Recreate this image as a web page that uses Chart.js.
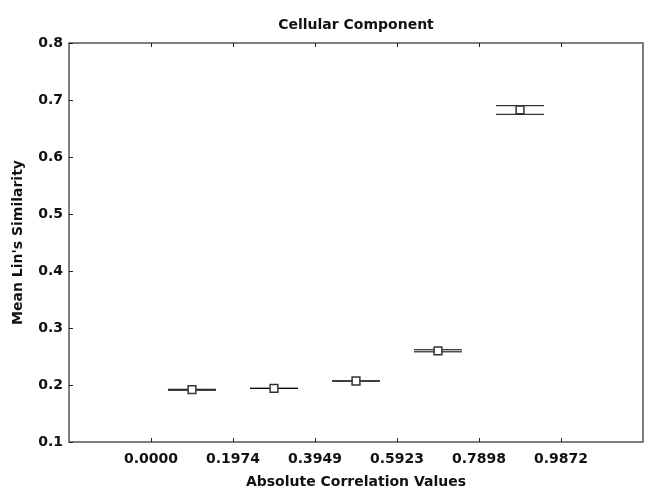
<!DOCTYPE html>
<html>
<head>
<meta charset="utf-8">
<script src="https://cdn.jsdelivr.net/npm/chart.js@4/dist/chart.umd.min.js"></script>
<style>
  body { margin: 0; background: #fff; }
  #wrap { width: 650px; height: 500px; }
</style>
</head>
<body>
<div id="wrap"><canvas id="cellChart"></canvas></div>
<script>
  // values
  const xTickValues = [0, 0.1974, 0.3949, 0.5923, 0.7898, 0.9872];
  const xTickLabels = ['0.0000', '0.1974', '0.3949', '0.5923', '0.7898', '0.9872'];
  const binCenters = [0.0987, 0.2962, 0.4936, 0.6910, 0.8885];
  const meanSim = [0.1920, 0.1942, 0.2070, 0.2600, 0.6825];
  const lowerSim = [0.1908, 0.1941, 0.2069, 0.2582, 0.6749];
  const upperSim = [0.1925, 0.1943, 0.2071, 0.2618, 0.6900];

  const font = { family: 'DejaVu Sans', size: 14, weight: 'bold' };

  // frame, inward tick marks and the error caps
  const framePlugin = {
    id: 'frame',
    beforeDatasetsDraw(chart) {
      const ctx = chart.ctx;
      const a = chart.chartArea;
      const xs = chart.scales.x, ys = chart.scales.y;
      ctx.save();
      ctx.strokeStyle = '#555';
      ctx.lineWidth = 1.5;
      ctx.strokeRect(a.left, a.top, a.right - a.left, a.bottom - a.top);
      ctx.lineWidth = 1;
      ctx.strokeStyle = '#222';
      ctx.beginPath();
      xTickValues.forEach(v => {
        const px = Math.round(xs.getPixelForValue(v)) + 0.5;
        ctx.moveTo(px, a.bottom); ctx.lineTo(px, a.bottom - 4);
        ctx.moveTo(px, a.top); ctx.lineTo(px, a.top + 4);
      });
      ys.ticks.forEach(t => {
        const py = Math.round(ys.getPixelForValue(t.value)) + 0.5;
        ctx.moveTo(a.left, py); ctx.lineTo(a.left + 4, py);
      });
      ctx.stroke();

      ctx.strokeStyle = '#000';
      ctx.beginPath();
      binCenters.forEach((c, i) => {
        const px = xs.getPixelForValue(c);
        [lowerSim[i], upperSim[i]].forEach(v => {
          const py = ys.getPixelForValue(v);
          ctx.moveTo(px - 24, py); ctx.lineTo(px + 24, py);
        });
      });
      ctx.stroke();
      ctx.restore();
    }
  };

  new Chart(document.getElementById('cellChart'), {
    type: 'scatter',
    data: {
      datasets: [{
        data: binCenters.map((c, i) => ({ x: c, y: meanSim[i] })),
        pointStyle: 'rect',
        pointRadius: 5.5,
        pointHoverRadius: 5.5,
        backgroundColor: '#fff',
        borderColor: '#333',
        borderWidth: 1.5
      }]
    },
    options: {
      responsive: true,
      maintainAspectRatio: false,
      animation: false,
      events: [],
      layout: { padding: { right: 4.5 } },
      plugins: {
        legend: { display: false },
        tooltip: { enabled: false },
        title: {
          display: true,
          text: 'Cellular Component',
          fullSize: false,
          color: '#111',
          font: font,
          padding: { top: 16.6, bottom: 9.6 }
        }
      },
      scales: {
        x: {
          type: 'linear',
          min: -0.1974,
          max: 1.1846,
          afterBuildTicks: s => { s.ticks = xTickValues.map(v => ({ value: v })); },
          afterFit: s => { s.height = 58; },
          grid: { display: false, drawTicks: false },
          border: { display: false },
          ticks: {
            color: '#111',
            font: font,
            padding: 9,
            maxRotation: 0,
            autoSkip: false,
            callback: (v, i) => xTickLabels[i]
          },
          title: {
            display: true,
            text: 'Absolute Correlation Values',
            color: '#111',
            font: font,
            padding: { top: 4, bottom: 9 }
          }
        },
        y: {
          min: 0.1,
          max: 0.8,
          afterFit: s => { s.width = 69; },
          grid: { display: false, drawTicks: false },
          border: { display: false },
          ticks: {
            stepSize: 0.1,
            color: '#111',
            font: font,
            padding: 6,
            callback: v => v.toFixed(1)
          },
          title: {
            display: true,
            text: "Mean Lin's Similarity",
            color: '#111',
            font: font,
            padding: { top: 10, bottom: 0 }
          }
        }
      }
    },
    plugins: [framePlugin]
  });
</script>
</body>
</html>
